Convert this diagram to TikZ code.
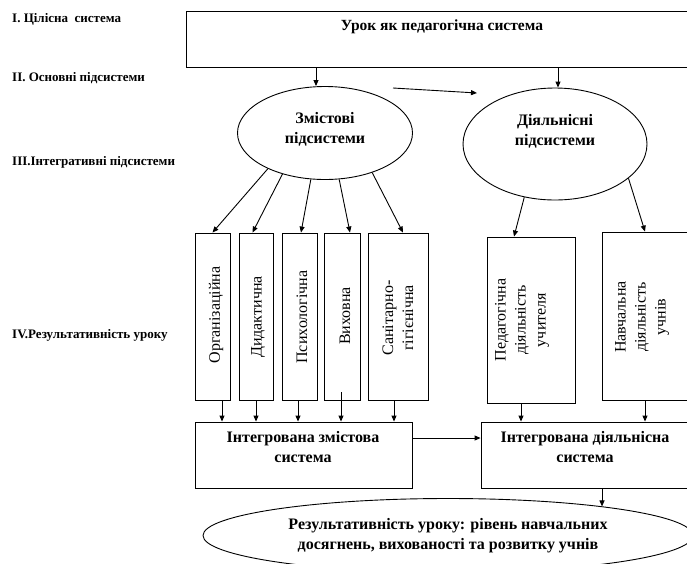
\documentclass[tikz,border=0pt]{standalone}
\usepackage{fontspec}
\setmainfont{Liberation Serif}
\usetikzlibrary{arrows.meta,shapes.geometric,calc}
\tikzset{
  ln/.style={line width=0.9pt},
  arr/.style={ln,-{Triangle[length=6pt,width=5pt]}},
  boxr/.style={draw,ln,rectangle,inner sep=0pt},
  ell/.style={draw,ln,ellipse,inner sep=0pt},
  btxt/.style={font=\fontsize{16}{20}\selectfont\bfseries,align=center,inner sep=0pt},
  rtxt/.style={font=\fontsize{16}{20}\selectfont,align=center,inner sep=0pt,rotate=90},
  lab/.style={font=\fontsize{13}{15}\selectfont\bfseries,anchor=west,inner sep=0pt}
}
\begin{document}
\begin{tikzpicture}[x=1pt,y=-1pt]
\useasboundingbox (0,0) rectangle (687,563);
% level labels
\node[lab] (l1) at (12,19) {I. Цілісна\ \ система};
\node[lab] (l2) at (12,78) {II. Основні підсистеми};
\node[lab] (l3) at (12,162) {III.Інтегративні підсистеми};
\node[lab] (l4) at (12,335) {IV.Результативність уроку};
% top box
\node[boxr,minimum width=506pt,minimum height=56pt] (top) at (439,39) {};
\node[btxt,font=\fontsize{15.5}{19}\selectfont\bfseries] (toptxt) at (442,27) {Урок як педагогічна система};
% ellipses
\node[ell,minimum width=175pt,minimum height=93pt] (e1) at (325,133) {};
\node[btxt] (e1t) at (325,129) {Змістові\\підсистеми};
\node[ell,minimum width=184pt,minimum height=112pt] (e2) at (555,144) {};
\node[btxt] (e2t) at (555,131) {Діяльнісні\\підсистеми};
\draw[arr] ([xshift=-9pt]e1.north |- top.south) -- ([xshift=-9pt]e1.north);
\draw[arr] ([xshift=3pt]e2.north |- top.south) -- ([xshift=3pt]e2.north);
\coordinate (h1) at (393,88);
\coordinate (h2) at (477,93);
\draw[arr] (h1) -- (h2);
% vertical boxes
\node[boxr,minimum width=35pt,minimum height=167pt] (org) at (212.5,316.5) {};
\node[boxr,minimum width=34pt,minimum height=167pt] (did) at (256.5,316.5) {};
\node[boxr,minimum width=35pt,minimum height=167pt] (psy) at (299.5,316.5) {};
\node[boxr,minimum width=36pt,minimum height=167pt] (vyx) at (342,316.5) {};
\node[boxr,minimum width=60pt,minimum height=167pt] (san) at (398,316.5) {};
\node[rtxt] (orgt) at (216,315) {Організаційна};
\node[rtxt] (didt) at (258,317) {Дидактична};
\node[rtxt] (psyt) at (302,317) {Психологічна};
\node[rtxt] (vyxt) at (345,316) {Виховна};
\node[rtxt] (sant) at (398,318) {Санітарно-\\гігієнічна};
\node[boxr,minimum width=88pt,minimum height=166pt] (ped) at (531,320) {};
\node[boxr,minimum width=98pt,minimum height=168pt] (nav) at (651,316) {};
\node[rtxt] (pedt) at (522,320) {Педагогічна\\діяльність\\учителя};
\node[rtxt] (navt) at (642,317) {Навчальна\\діяльність\\учнів};
% arrows ellipse -> boxes
\draw[arr] (e1.212) -- (org.north);
\draw[arr] (e1.224) -- ([xshift=-4pt]did.north);
\draw[arr] (e1.253) -- ([xshift=1.5pt]psy.north);
\draw[arr] (e1.287) -- ([xshift=8pt]vyx.north);
\draw[arr] (e1.320) -- ([xshift=5pt]san.north);
\draw[arr] (e2.240) -- ([xshift=-17pt]ped.north);
\draw[arr] (e2.335) -- ([xshift=-6pt]nav.north);
% integrated boxes
\node[boxr,minimum width=217pt,minimum height=66pt] (integ) at (303.5,455) {};
\node[btxt] (integt) at (303,447.5) {Інтегрована змістова\\система};
\node[boxr,minimum width=212pt,minimum height=66pt] (act) at (587,455) {};
\node[btxt] (actt) at (585,447.5) {Інтегрована діяльнісна\\система};
\draw[arr] ([xshift=9.5pt]org.south) -- ([xshift=9.5pt]org.south |- integ.north);
\draw[arr] ([xshift=-0.5pt]did.south) -- ([xshift=-0.5pt]did.south |- integ.north);
\draw[arr] ([xshift=-1.5pt]psy.south) -- ([xshift=-1.5pt]psy.south |- integ.north);
\draw[arr] ([xshift=-1pt,yshift=8pt]vyx.south) -- ([xshift=-1pt]vyx.south |- integ.north);
\draw[arr] ([xshift=-4pt]san.south) -- ([xshift=-4pt]san.south |- integ.north);
\draw[arr] ([xshift=-10pt]ped.south) -- ([xshift=-10pt]ped.south |- act.north);
\draw[arr] ([xshift=-6pt]nav.south) -- ([xshift=-6pt]nav.south |- act.north);
\draw[arr] ([yshift=17pt]integ.east) -- ([yshift=17pt]act.west);
% result ellipse
\node[ell,minimum width=490pt,minimum height=74pt,btxt,draw] (res) at (448,535.5) {Результативність уроку: рівень навчальних\\досягнень, вихованості та розвитку учнів};
\draw[arr] ([xshift=15pt]act.south) -- ++(0,18);
\end{tikzpicture}
\end{document}
